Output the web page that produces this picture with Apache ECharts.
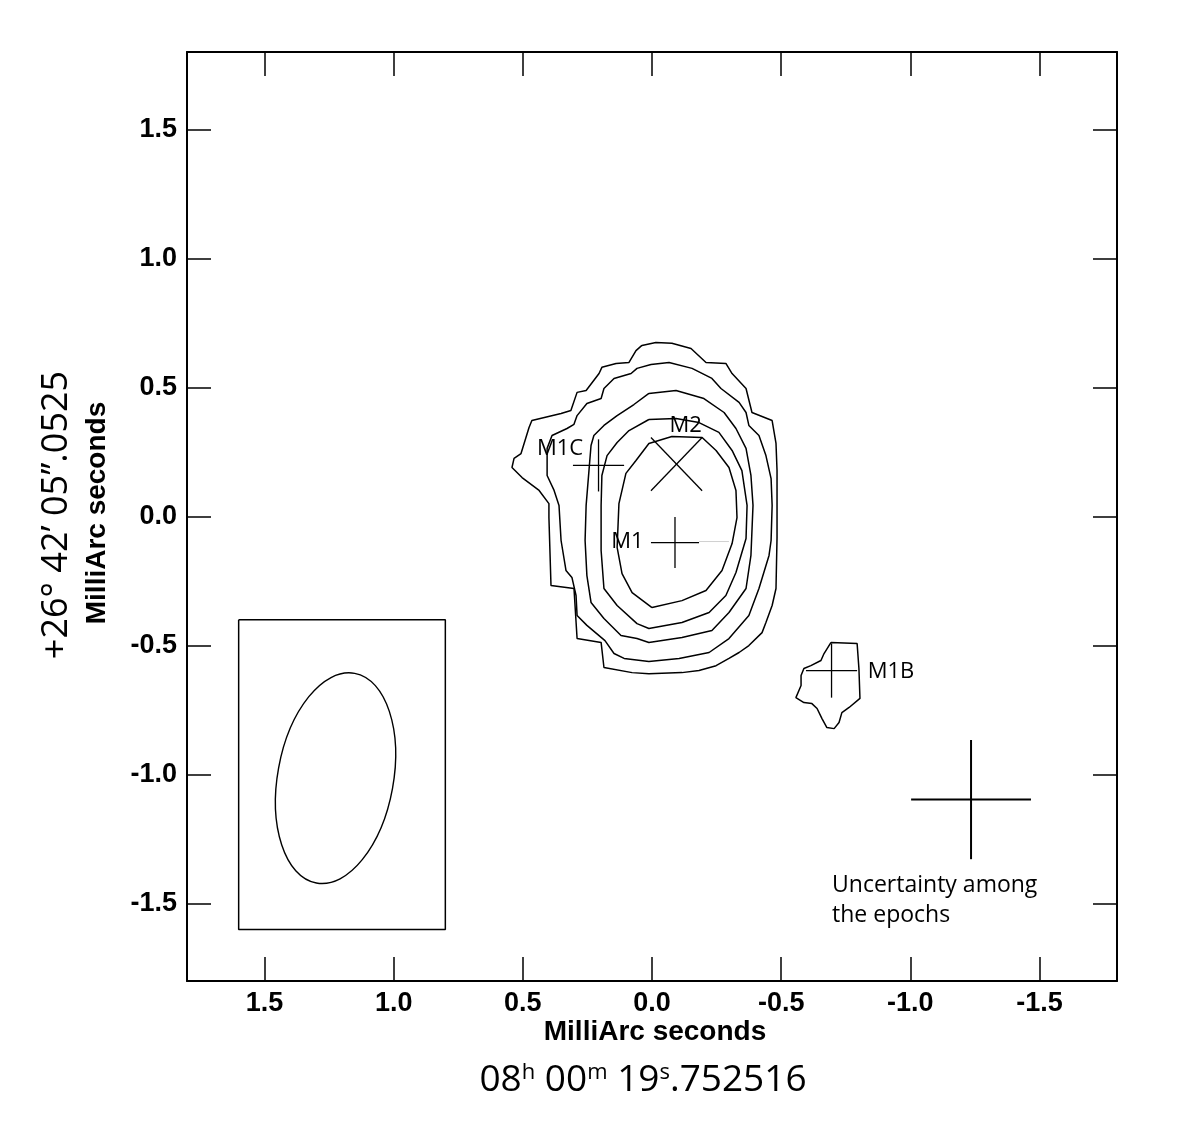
<!DOCTYPE html>
<html><head><meta charset="utf-8">
<script src="https://cdn.jsdelivr.net/npm/echarts@6/dist/echarts.min.js"></script>
<style>html,body{margin:0;padding:0;background:#fff}#c{width:1196px;height:1132px}</style>
</head><body><div id="c"></div>
<script>
// ---- axes ----
const xRange = [-1.8, 1.8];
const yRange = [-1.8, 1.8];
const tickValues = [-1.5, -1.0, -0.5, 0.0, 0.5, 1.0, 1.5];
const tickLabels = ['-1.5', '-1.0', '-0.5', '0.0', '0.5', '1.0', '1.5'];

// ---- contour levels (milliarcsec offsets: [x, y]) ----
const contour1 = [[0.039,0.663],[-0.015,0.674],[-0.077,0.671],[-0.151,0.651],[-0.209,0.597],[-0.286,0.593],[-0.310,0.554],[-0.364,0.496],[-0.387,0.403],[-0.465,0.372],[-0.480,0.283],[-0.484,0.178],[-0.484,-0.081],[-0.480,-0.279],[-0.465,-0.345],[-0.441,-0.411],[-0.426,-0.450],[-0.375,-0.500],[-0.337,-0.527],[-0.298,-0.550],[-0.248,-0.578],[-0.182,-0.597],[-0.116,-0.605],[0.012,-0.609],[0.077,-0.605],[0.186,-0.585],[0.197,-0.488],[0.290,-0.473],[0.302,-0.279],[0.391,-0.267],[0.399,-0.004],[0.399,0.050],[0.437,0.101],[0.503,0.151],[0.542,0.190],[0.534,0.225],[0.507,0.244],[0.476,0.345],[0.465,0.372],[0.352,0.399],[0.314,0.411],[0.290,0.481],[0.255,0.488],[0.205,0.554],[0.194,0.578],[0.139,0.593],[0.089,0.597],[0.062,0.643],[0.039,0.663]];
const contour2 = [[0.004,0.589],[-0.066,0.597],[-0.155,0.574],[-0.232,0.535],[-0.267,0.496],[-0.337,0.442],[-0.364,0.403],[-0.375,0.353],[-0.414,0.314],[-0.441,0.236],[-0.461,0.147],[-0.465,0.043],[-0.461,-0.093],[-0.453,-0.151],[-0.414,-0.279],[-0.375,-0.384],[-0.298,-0.473],[-0.221,-0.527],[-0.105,-0.550],[0.012,-0.562],[0.108,-0.550],[0.147,-0.531],[0.182,-0.481],[0.252,-0.422],[0.290,-0.384],[0.294,-0.306],[0.310,-0.236],[0.333,-0.209],[0.352,-0.093],[0.360,0.043],[0.379,0.101],[0.406,0.159],[0.406,0.264],[0.387,0.314],[0.329,0.341],[0.302,0.357],[0.290,0.391],[0.252,0.438],[0.197,0.457],[0.186,0.496],[0.147,0.535],[0.081,0.554],[0.058,0.574],[0.004,0.589]];
const contour3 = [[0.012,0.477],[-0.093,0.488],[-0.201,0.457],[-0.279,0.403],[-0.325,0.341],[-0.364,0.264],[-0.383,0.159],[-0.391,0.043],[-0.383,-0.151],[-0.364,-0.279],[-0.298,-0.372],[-0.232,-0.442],[-0.116,-0.469],[0.012,-0.488],[0.058,-0.473],[0.120,-0.461],[0.186,-0.395],[0.236,-0.333],[0.252,-0.229],[0.259,-0.093],[0.255,0.043],[0.244,0.178],[0.236,0.275],[0.225,0.314],[0.186,0.353],[0.135,0.391],[0.070,0.434],[0.012,0.477]];
const contour4 = [[0.012,0.376],[-0.093,0.380],[-0.182,0.364],[-0.259,0.326],[-0.310,0.256],[-0.348,0.178],[-0.368,0.043],[-0.364,-0.085],[-0.325,-0.217],[-0.286,-0.306],[-0.221,-0.372],[-0.116,-0.411],[0.012,-0.434],[0.058,-0.415],[0.135,-0.345],[0.186,-0.279],[0.197,-0.132],[0.197,0.043],[0.194,0.159],[0.174,0.236],[0.135,0.287],[0.089,0.333],[0.012,0.376]];
const contour5 = [[0.000,-0.353],[-0.116,-0.326],[-0.209,-0.287],[-0.271,-0.209],[-0.310,-0.105],[-0.329,-0.004],[-0.325,0.101],[-0.298,0.190],[-0.248,0.256],[-0.194,0.306],[-0.077,0.310],[0.012,0.283],[0.062,0.217],[0.101,0.167],[0.128,0.050],[0.135,-0.120],[0.116,-0.221],[0.077,-0.295],[0.000,-0.353]];
const contourM1B = [[-0.693,-0.488],[-0.794,-0.492],[-0.801,-0.589],[-0.805,-0.705],[-0.763,-0.740],[-0.735,-0.760],[-0.724,-0.798],[-0.705,-0.822],[-0.677,-0.818],[-0.658,-0.783],[-0.639,-0.744],[-0.619,-0.725],[-0.588,-0.721],[-0.557,-0.702],[-0.577,-0.655],[-0.577,-0.616],[-0.588,-0.589],[-0.615,-0.578],[-0.654,-0.558],[-0.666,-0.531],[-0.693,-0.488]];

// ---- maser component positions ----
const markerNames = ['M1', 'M1C', 'M2', 'M1B'];
const markerX = [-0.089, 0.207, -0.095, -0.695];
const markerY = [-0.101, 0.198, 0.203, -0.597];
const markerShape = ['+', '+', 'x', '+'];
const markerHalfX = [0.093, 0.099, 0.099, 0.099];
const markerHalfY = [0.099, 0.101, 0.103, 0.105];
const labelX = [0.095, 0.356, -0.130, -0.925];
const labelY = [-0.097, 0.264, 0.353, -0.601];
const faintSegment = [[-0.182, -0.097], [-0.298, -0.097]];

// ---- uncertainty among the epochs ----
const uncX = -1.235, uncY = -1.097, uncHalfX = 0.232, uncHalfY = 0.231;
const uncText = 'Uncertainty among\nthe epochs';
const uncTextX = -0.697, uncTextY = -1.488;

// ---- beam ----
const beamBoxX = [1.6, 0.8, 0.8, 1.6, 1.6];
const beamBoxY = [-0.4, -0.4, -1.6, -1.6, -0.4];
const beamCenterX = 1.225, beamCenterY = -1.014;
const beamMajor = 0.413, beamMinor = 0.224, beamPA = -10.35;

const chart = echarts.init(document.getElementById('c'), null, {renderer: 'canvas'});
const BLACK = '#000';
const tickFont = {fontWeight: 'bold', fontSize: 27, color: BLACK, fontFamily: '"Liberation Sans", Arial, sans-serif'};
function labelFor(v) {
  for (let i = 0; i < tickValues.length; i++) if (Math.abs(tickValues[i] - v) < 1e-9) return tickLabels[i];
  return '';
}
function xAx(pos, showLabel) {
  return {type: 'value', min: xRange[0], max: xRange[1], inverse: true, position: pos,
    axisLine: {show: true, onZero: false, lineStyle: {color: BLACK, width: 2}},
    axisTick: {show: true, inside: true, length: 24, customValues: tickValues, lineStyle: {color: BLACK, width: 1.5}},
    axisLabel: Object.assign({show: showLabel, customValues: tickValues, margin: 9, formatter: labelFor}, tickFont),
    splitLine: {show: false}};
}
function yAx(pos, showLabel) {
  return {type: 'value', min: yRange[0], max: yRange[1], position: pos,
    axisLine: {show: true, onZero: false, lineStyle: {color: BLACK, width: 2}},
    axisTick: {show: true, inside: true, length: 24, customValues: tickValues, lineStyle: {color: BLACK, width: 1.5}},
    axisLabel: Object.assign({show: showLabel, customValues: tickValues, margin: 10, formatter: labelFor}, tickFont),
    splitLine: {show: false}};
}
function contourSeries(data, color, width) {
  return {type: 'line', data: data, showSymbol: false, symbol: 'none', silent: true, z: 3,
    lineStyle: {color: color || BLACK, width: width || 1.5}, animation: false};
}
const boxData = beamBoxX.map((x, i) => [x, beamBoxY[i]]);
const markerData = markerNames.map((n, i) => [markerX[i], markerY[i], markerHalfX[i], markerHalfY[i], i]);
const labelData = markerNames.map((n, i) => [labelX[i], labelY[i], i]);

const option = {
  animation: false,
  backgroundColor: '#fff',
  grid: {left: 187, top: 52, right: 79, bottom: 151, containLabel: false, outerBoundsMode: 'none'},
  xAxis: [xAx('bottom', true), xAx('top', false)],
  yAxis: [yAx('left', true), yAx('right', false)],
  series: [
    contourSeries(contour1), contourSeries(contour2), contourSeries(contour3),
    contourSeries(contour4), contourSeries(contour5), contourSeries(contourM1B),
    contourSeries(faintSegment, '#d0d0d0', 1),
    contourSeries(boxData, BLACK, 1.5),
    {type: 'custom', silent: true, z: 4, data: [[beamCenterX, beamCenterY, beamMajor, beamMinor, beamPA]],
      renderItem: function (params, api) {
        const c = api.coord([api.value(0), api.value(1)]);
        const ry = Math.abs(api.size([0, api.value(2)])[1]);
        const rx = Math.abs(api.size([api.value(3), 0])[0]);
        return {type: 'ellipse', x: c[0], y: c[1], rotation: api.value(4) * Math.PI / 180,
          shape: {cx: 0, cy: 0, rx: rx, ry: ry},
          style: {fill: 'none', stroke: BLACK, lineWidth: 1.4}};
      }},
    {type: 'custom', silent: true, z: 5, data: markerData,
      renderItem: function (params, api) {
        const x = api.value(0), y = api.value(1), hx = api.value(2), hy = api.value(3);
        const shape = markerShape[api.value(4)];
        let segs;
        if (shape === 'x') segs = [[[x - hx, y - hy], [x + hx, y + hy]], [[x - hx, y + hy], [x + hx, y - hy]]];
        else segs = [[[x - hx, y], [x + hx, y]], [[x, y - hy], [x, y + hy]]];
        return {type: 'group', children: segs.map(s => {
          const a = api.coord(s[0]), b = api.coord(s[1]);
          return {type: 'line', shape: {x1: a[0], y1: a[1], x2: b[0], y2: b[1]}, style: {stroke: BLACK, lineWidth: 1.3}};
        })};
      }},
    {type: 'custom', silent: true, z: 5, data: [[uncX, uncY, uncHalfX, uncHalfY]],
      renderItem: function (params, api) {
        const x = api.value(0), y = api.value(1), hx = api.value(2), hy = api.value(3);
        const segs = [[[x - hx, y], [x + hx, y]], [[x, y - hy], [x, y + hy]]];
        return {type: 'group', children: segs.map(s => {
          const a = api.coord(s[0]), b = api.coord(s[1]);
          return {type: 'line', shape: {x1: a[0], y1: a[1], x2: b[0], y2: b[1]}, style: {stroke: BLACK, lineWidth: 2}};
        })};
      }},
    {type: 'custom', silent: true, z: 6, data: labelData,
      renderItem: function (params, api) {
        const c = api.coord([api.value(0), api.value(1)]);
        return {type: 'text', x: c[0], y: c[1],
          style: {text: markerNames[api.value(2)], fill: BLACK, fontSize: 22, fontFamily: '"Open Sans", sans-serif', align: 'center', verticalAlign: 'middle'}};
      }},
    {type: 'custom', silent: true, z: 6, data: [[uncTextX, uncTextY]],
      renderItem: function (params, api) {
        const c = api.coord([api.value(0), api.value(1)]);
        return {type: 'text', x: c[0], y: c[1],
          style: {text: uncText, fill: BLACK, fontSize: 23, lineHeight: 30, fontFamily: '"Open Sans", sans-serif', align: 'left', verticalAlign: 'middle'}};
      }}
  ],
  graphic: [
    {type: 'text', x: 655, y: 1032, style: {text: 'MilliArc seconds', fill: BLACK, fontSize: 28, fontWeight: 'bold', fontFamily: '"Liberation Sans", Arial, sans-serif', align: 'center', verticalAlign: 'middle'}},
    {type: 'text', x: 97, y: 513, rotation: Math.PI / 2, style: {text: 'MilliArc seconds', fill: BLACK, fontSize: 28, fontWeight: 'bold', fontFamily: '"Liberation Sans", Arial, sans-serif', align: 'center', verticalAlign: 'middle'}},
    {type: 'text', x: 57, y: 515, rotation: Math.PI / 2, style: {text: '+26° 42’ 05’’.0525', fill: BLACK, fontSize: 36, fontFamily: '"Open Sans", sans-serif', align: 'center', verticalAlign: 'middle'}},
    {type: 'text', x: 643, y: 1080, style: {
      text: '08{s|h} 00{s|m} 19{s|s}.752516', fill: BLACK, fontSize: 37, fontFamily: '"Open Sans", sans-serif', align: 'center', verticalAlign: 'middle',
      rich: {s: {fontSize: 22, fontFamily: '"Open Sans", sans-serif', fill: BLACK, verticalAlign: 'top'}}}}
  ]
};
chart.setOption(option);
</script></body></html>
